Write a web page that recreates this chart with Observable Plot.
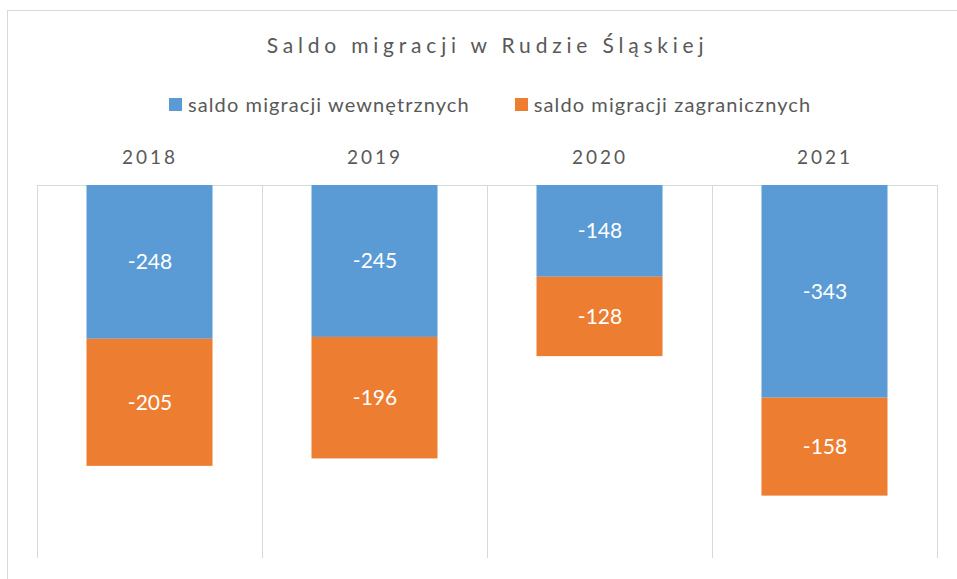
<!DOCTYPE html>
<html><head><meta charset="utf-8">
<script src="https://cdn.jsdelivr.net/npm/d3@7"></script>
<script src="https://cdn.jsdelivr.net/npm/@observablehq/plot@0.6"></script>
<style>
body{margin:0;background:#fff;}
#wrap{position:relative;width:957px;height:579px;overflow:hidden;font-family:Lato,"Open Sans",sans-serif;color:#595959;}
#border{position:absolute;left:7px;top:10px;width:1000px;height:1000px;border:1px solid #d9d9d9;}
#title{position:absolute;left:0;width:975px;top:32px;text-align:center;font-size:21px;letter-spacing:4.8px;white-space:nowrap;}
#legend{position:absolute;left:169px;top:92px;font-size:20px;letter-spacing:1.1px;white-space:nowrap;display:flex;align-items:center;}
#legend .item{display:flex;align-items:center;}
#legend .sw{width:13px;height:13px;margin-right:6px;display:inline-block;}
#chart{position:absolute;left:0;top:0;}
#chart g[aria-label="fx-axis tick label"] text{letter-spacing:3px;}
</style></head>
<body>
<div id="wrap">
<div id="border"></div>
<div id="title">Saldo migracji w Rudzie Śląskiej</div>
<div id="legend"></div>
<div id="chart"></div>
</div>
<script>
const years = ["2018", "2019", "2020", "2021"];
const seriesNames = ["saldo migracji wewnętrznych", "saldo migracji zagranicznych"];
const wewnetrzne = [-248, -245, -148, -343];
const zagraniczne = [-205, -196, -128, -158];
const colors = ["#5b9bd5", "#ed7d31"];

const rows = [];
years.forEach((y, i) => {
  rows.push({year: y, series: seriesNames[0], value: wewnetrzne[i]});
  rows.push({year: y, series: seriesNames[1], value: zagraniczne[i]});
});

const legend = document.getElementById("legend");
seriesNames.forEach((s, i) => {
  const it = document.createElement("span");
  it.className = "item";
  it.style.marginRight = i === 0 ? "45px" : "0";
  it.innerHTML = `<span class="sw" style="background:${colors[i]}"></span>${s}`;
  legend.appendChild(it);
});

const chart = Plot.plot({
  width: 957,
  height: 579,
  marginTop: 185,
  marginBottom: 22,
  marginLeft: 36.5,
  marginRight: 19.5,
  style: {fontFamily: "Lato, 'Open Sans', sans-serif", fontSize: "19px", color: "#595959", background: "transparent"},
  fx: {domain: years, padding: 0, axis: "top", label: null, tickSize: 0, tickPadding: 22},
  y: {domain: [-600, 0], axis: null},
  color: {domain: seriesNames, range: colors},
  marks: [
    Plot.frame({anchor: "left", stroke: "#d9d9d9", strokeOpacity: 1}),
    Plot.frame({anchor: "right", stroke: "#d9d9d9", strokeOpacity: 1}),
    Plot.ruleY([0], {stroke: "#d9d9d9"}),
    Plot.barY(rows, Plot.stackY({fx: "year", y: "value", fill: "series", insetLeft: 49.5, insetRight: 49.5})),
    Plot.text(rows, Plot.stackY({fx: "year", y: "value", text: d => String(d.value), fill: "white", fontSize: 21}))
  ]
});
document.getElementById("chart").appendChild(chart);
</script>
</body></html>
